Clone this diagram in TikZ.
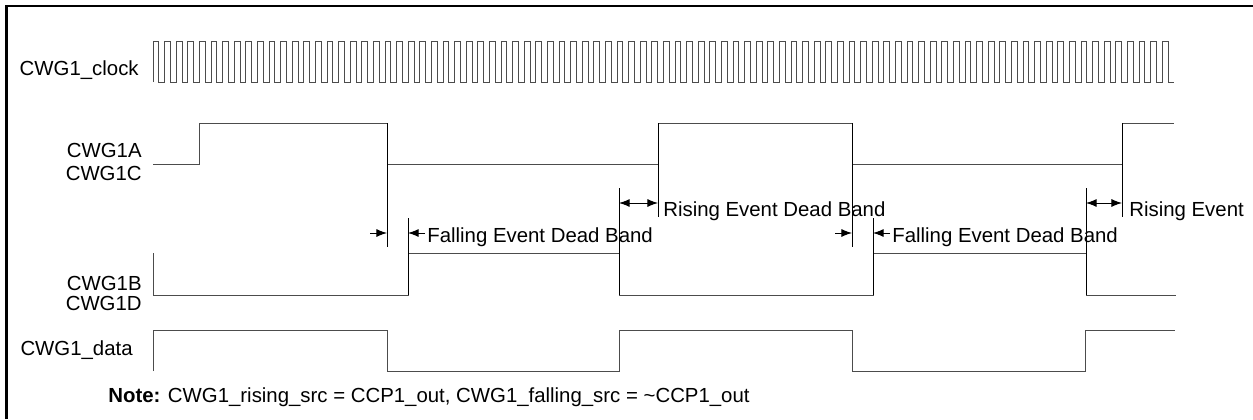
\documentclass[tikz,border=0pt]{standalone}
\usepackage{fontspec}
\setmainfont{Liberation Sans}
\usetikzlibrary{arrows.meta}

\begin{document}
\begin{tikzpicture}[x=0.02cm, y=-0.02cm,
    wave/.style={black!70, line width=0.55pt},
    guide/.style={black, line width=0.5pt},
    band/.style={black, line width=0.5pt, -{Latex[length=6pt, width=4.5pt]}},
    bandboth/.style={black, line width=0.5pt, {Latex[length=6pt, width=4.5pt]}-{Latex[length=6pt, width=4.5pt]}},
    lbl/.style={font=\fontsize{11.6}{14}\selectfont, inner sep=0pt}]
\useasboundingbox (0,0) rectangle (1253,419);
% frame
\draw[black, line width=1.5pt] (6.5,419) -- (6.5,6) -- (1253,6);

% signal names
\node[lbl, anchor=base east] (clk) at (139,75) {CWG1\_clock};
\node[lbl, anchor=base east] (outA) at (142,157) {CWG1A};
\node[lbl, anchor=base east] (outC) at (142,180) {CWG1C};
\node[lbl, anchor=base east] (outB) at (142,290) {CWG1B};
\node[lbl, anchor=base east] (outD) at (142,310) {CWG1D};
\node[lbl, anchor=base east] (data) at (133,355) {CWG1\_data};
\node[lbl, anchor=base west] (note) at (108,402) {\textbf{Note:} CWG1\_rising\_src = CCP1\_out, CWG1\_falling\_src = \textasciitilde CCP1\_out};

% clock
\draw[wave] (153,82) \foreach \i in {0,...,87} { -- ++(0,-41) -- ++(5.8,0) -- ++(0,41) -- ++(5.8,0) };

% CWG1A / CWG1C
\draw[wave] (153,164) -- (199,164) -- (199,123) -- (387,123) -- (387,164) -- (658,164) -- (658,123) -- (852,123) -- (852,164) -- (1122,164) -- (1122,123) -- (1174,123);
% CWG1B / CWG1D
\draw[wave] (153,253) -- (153,295) -- (408,295) -- (408,253) -- (619,253) -- (619,295) -- (873,295) -- (873,253) -- (1086,253) -- (1086,295) -- (1176,295);
% CWG1_data
\draw[wave] (153,371) -- (153,330) -- (387,330) -- (387,371) -- (619,371) -- (619,330) -- (852,330) -- (852,371) -- (1085,371) -- (1085,330) -- (1175,330);

% edge markers
\draw[guide] (387,123) -- (387,247);
\draw[guide] (852,123) -- (852,247);
\draw[guide] (658,123) -- (658,217);
\draw[guide] (1122,123) -- (1122,217);
\draw[guide] (408,218) -- (408,295);
\draw[guide] (873,218) -- (873,295);
\draw[guide] (619,188) -- (619,295);
\draw[guide] (1086,188) -- (1086,295);

% dead band arrows
\coordinate (fallA1) at (387,233);
\coordinate (fallA1l) at (370,233);
\coordinate (riseB1) at (408,233);
\coordinate (riseB1r) at (425,233);
\coordinate (fallB1) at (619,203);
\coordinate (riseA1) at (658,203);
\coordinate (fallA2) at (852,233);
\coordinate (fallA2l) at (835,233);
\coordinate (riseB2) at (873,233);
\coordinate (riseB2r) at (890,233);
\coordinate (fallB2) at (1086,203);
\coordinate (riseA2) at (1122,203);
\draw[band] (fallA1l) -- (fallA1);
\draw[band] (riseB1r) -- (riseB1);
\draw[bandboth] (fallB1) -- (riseA1);
\draw[band] (fallA2l) -- (fallA2);
\draw[band] (riseB2r) -- (riseB2);
\draw[bandboth] (fallB2) -- (riseA2);

\node[lbl, anchor=base west] (fall1) at (427,242) {Falling Event Dead Band};
\node[lbl, anchor=base west] (rise1) at (663,216) {Rising Event Dead Band};
\node[lbl, anchor=base west] (fall2) at (892,242) {Falling Event Dead Band};
\node[lbl, anchor=base west] (rise2) at (1129,216) {Rising Event};
\end{tikzpicture}
\end{document}
